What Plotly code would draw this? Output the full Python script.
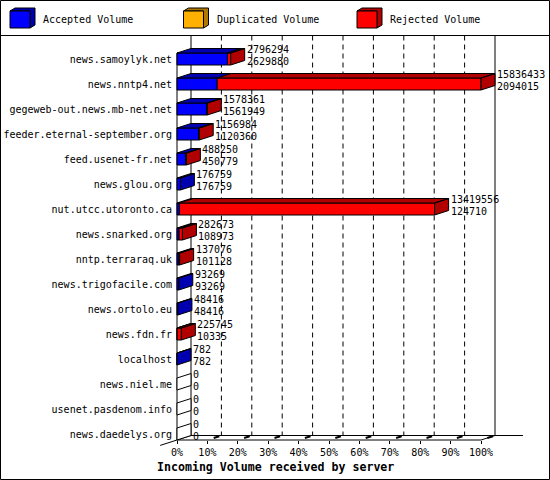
import plotly.graph_objects as go

# innreport style "Incoming Volume received by server"
hosts = ["news.samoylyk.net", "news.nntp4.net", "gegeweb-out.news.mb-net.net",
         "feeder.eternal-september.org", "feed.usenet-fr.net", "news.glou.org",
         "nut.utcc.utoronto.ca", "news.snarked.org", "nntp.terraraq.uk",
         "news.trigofacile.com", "news.ortolo.eu", "news.fdn.fr", "localhost",
         "news.niel.me", "usenet.pasdenom.info", "news.daedelys.org"]
total_volume = [2796294, 15836433, 1578361, 1156984, 488250, 176759, 13419556,
                282673, 137076, 93269, 48416, 225745, 782, 0, 0, 0]
accepted_volume = [2629880, 2094015, 1561949, 1120360, 450779, 176759, 124710,
                   108973, 101128, 93269, 48416, 10335, 782, 0, 0, 0]
duplicated_volume = [0, 0, 0, 0, 0, 0, 0, 0, 0, 0, 0, 0, 0, 0, 0, 0]
percent_ticks = [0, 10, 20, 30, 40, 50, 60, 70, 80, 90, 100]
series_names = ["Accepted Volume", "Duplicated Volume", "Rejected Volume"]
front_colors = ["#0000ff", "#ffb000", "#ff0000"]
dark_colors = ["#0000b0", "#b07800", "#b00000"]

rejected_volume = [t - a - d for t, a, d in zip(total_volume, accepted_volume, duplicated_volume)]

W, H = 550, 480
FONT = "DejaVu Sans Mono"
# pixel geometry of the fake 3d frame
X0_PX, PX_PER_PCT = 177, 3.04
ROW0_PX, ROW_PX = 59, 25
LEGEND_PX = 35.5
DX = 14 / PX_PER_PCT        # depth, in percent units
DY = -4.5 / ROW_PX          # depth, in row units (axis reversed)
HALF = 6 / ROW_PX           # half height of the bar front
FLOOR = len(hosts) - 1 + HALF
WALL_TOP = (LEGEND_PX - ROW0_PX) / ROW_PX

vmax = max(total_volume)

front = [([], []) for _ in series_names]
dark = [([], []) for _ in series_names]
blank = ([], [])


def add_poly(target, xs, ys):
    target[0].extend(xs + [xs[0], None])
    target[1].extend(ys + [ys[0], None])


for i in range(len(hosts)):
    top, bot = i - HALF, i + HALF
    start = 0.0
    last = None
    for k, vals in enumerate([accepted_volume, duplicated_volume, rejected_volume]):
        w = vals[i] / vmax * 100
        if w <= 0:
            continue
        end = start + w
        add_poly(front[k], [start, end, end, start], [top, top, bot, bot])
        add_poly(dark[k], [start, end, end + DX, start + DX], [top, top, top + DY, top + DY])
        last = k
        start = end
    side = blank if last is None else dark[last]
    add_poly(side, [start, start, start + DX, start + DX], [top, bot, bot + DY, top + DY])

fig = go.Figure()
fig.add_trace(go.Scatter(x=blank[0], y=blank[1], mode="lines", fill="toself",
                         fillcolor="white", line=dict(color="black", width=1),
                         hoverinfo="skip"))
for k, name in enumerate(series_names):
    for poly, col in ((front[k], front_colors[k]), (dark[k], dark_colors[k])):
        if not poly[0]:
            continue
        fig.add_trace(go.Scatter(x=poly[0], y=poly[1], mode="lines", fill="toself",
                                 fillcolor=col, line=dict(color="black", width=1),
                                 name=name, hoverinfo="skip"))

# value labels: total on top, accepted below
annotations = []
for i in range(len(hosts)):
    xend = total_volume[i] / vmax * 100 + DX
    for val, off in ((total_volume[i], -9.5), (accepted_volume[i], 2.5)):
        annotations.append(dict(x=xend, y=i + off / ROW_PX, text=str(val), showarrow=False,
                                xanchor="left", yanchor="middle", xshift=0,
                                font=dict(family=FONT, size=10, color="black")))

shapes = []
line = dict(color="black", width=1)
# outer border and legend separator
shapes.append(dict(type="rect", xref="paper", yref="paper", x0=0.5 / W, x1=1 - 0.5 / W,
                   y0=0.5 / H, y1=1 - 0.5 / H, line=line))
shapes.append(dict(type="line", xref="paper", yref="paper", x0=0, x1=1,
                   y0=1 - LEGEND_PX / H, y1=1 - LEGEND_PX / H, line=line))
# frame
frame = [
    (DX, WALL_TOP, DX, FLOOR + DY),
    (100 + DX, WALL_TOP, 100 + DX, FLOOR + DY),
    (0, -HALF, 0, FLOOR),
    (0, FLOOR, 100, FLOOR),
    (DX, FLOOR + DY, 113.8, FLOOR + DY),
    (100, FLOOR, 100 + DX, FLOOR + DY),
    (DX, FLOOR + DY, -1.2 * DX, FLOOR - 1.2 * DY),
]
for x0, y0, x1, y1 in frame:
    shapes.append(dict(type="line", xref="x", yref="y", x0=x0, y0=y0, x1=x1, y1=y1,
                       line=line, layer="below"))
for p in percent_ticks[1:-1]:
    shapes.append(dict(type="line", xref="x", yref="y", x0=p + DX, x1=p + DX,
                       y0=WALL_TOP, y1=FLOOR + DY, layer="below",
                       line=dict(color="black", width=1, dash="5px,4px")))
for p in percent_ticks[1:]:
    shapes.append(dict(type="line", xref="x", yref="y", x0=p + 0.45 * DX, x1=p + 0.85 * DX,
                       y0=FLOOR + 0.45 * DY, y1=FLOOR + 0.85 * DY, layer="below",
                       line=dict(color="black", width=2)))

# legend with little cubes
legend_x = [10, 183.5, 357]
for k, name in enumerate(series_names):
    x0 = legend_x[k]
    fx = lambda v: v / W
    fy = lambda v: 1 - v / H
    shapes.append(dict(type="path", xref="paper", yref="paper", fillcolor=dark_colors[k], line=line,
                       path=f"M{fx(x0)},{fy(11)} L{fx(x0 + 5)},{fy(8)} L{fx(x0 + 25)},{fy(8)} "
                            f"L{fx(x0 + 25)},{fy(25)} L{fx(x0 + 20)},{fy(28)} L{fx(x0 + 20)},{fy(11)} Z"))
    shapes.append(dict(type="rect", xref="paper", yref="paper", fillcolor=front_colors[k], line=line,
                       x0=fx(x0), x1=fx(x0 + 20), y0=fy(28), y1=fy(11)))
    annotations.append(dict(x=fx(x0 + 31), y=fy(20), xref="paper", yref="paper", text=name,
                            showarrow=False, xanchor="left", yanchor="middle",
                            font=dict(family=FONT, size=10, color="black")))

annotations.append(dict(x=0.5, y=1 - 467 / H, xref="paper", yref="paper",
                        text="<b>Incoming Volume received by server</b>", showarrow=False,
                        xanchor="center", yanchor="middle",
                        font=dict(family=FONT, size=11.6, color="black")))

fig.update_layout(
    width=W, height=H, margin=dict(l=0, r=0, t=0, b=0),
    paper_bgcolor="white", plot_bgcolor="white", showlegend=False,
    shapes=shapes, annotations=annotations,
    xaxis=dict(domain=[0, 1], range=[-X0_PX / PX_PER_PCT, (W - X0_PX) / PX_PER_PCT],
               anchor="free", position=1 - (ROW0_PX + FLOOR * ROW_PX) / H,
               tickvals=percent_ticks, ticktext=[f"{p}%" for p in percent_ticks],
               ticks="outside", ticklen=3, tickcolor="black", showgrid=False,
               zeroline=False, showline=False,
               tickfont=dict(family=FONT, size=10, color="black")),
    yaxis=dict(domain=[0, 1], range=[(H - ROW0_PX) / ROW_PX, -ROW0_PX / ROW_PX],
               anchor="free", position=X0_PX / W,
               tickvals=list(range(len(hosts))), ticktext=hosts, ticks="",
               ticklabelstandoff=5,
               showgrid=False, zeroline=False, showline=False,
               tickfont=dict(family=FONT, size=10, color="black")),
)

# the page body has a default margin; drop it so the figure sits at the corner
fig.write_html("out.html", config={"displayModeBar": False},
               post_script="document.body.style.margin='0px';")
